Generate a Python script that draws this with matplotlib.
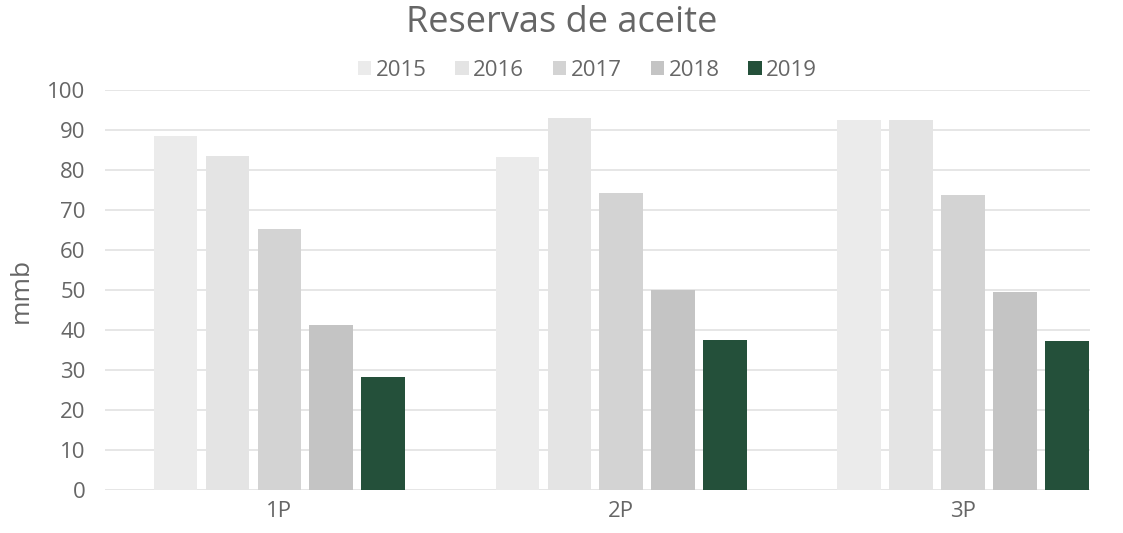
import matplotlib
matplotlib.use("Agg")
import matplotlib.pyplot as plt
import numpy as np

categories = ["1P", "2P", "3P"]
years = ["2015", "2016", "2017", "2018", "2019"]
values_2015 = [88.5, 83.3, 92.5]
values_2016 = [83.5, 93.0, 92.5]
values_2017 = [65.3, 74.3, 73.8]
values_2018 = [41.3, 50.0, 49.5]
values_2019 = [28.3, 37.5, 37.3]

series = [values_2015, values_2016, values_2017, values_2018, values_2019]
colors = ["#ebebeb", "#e4e4e4", "#d3d3d3", "#c4c4c4", "#24503a"]

plt.rcParams["font.family"] = ["Open Sans", "DejaVu Sans"]
text_color = "#666666"

fig = plt.figure(figsize=(11.23, 5.33), dpi=100)
ax = fig.add_axes([0.0935, 0.0807, 0.877, 0.7505])

x = np.arange(len(categories))
step = 0.152
width = 0.126
for i, (vals, col, yr) in enumerate(zip(series, colors, years)):
    ax.bar(x + (i - 2) * step, vals, width, color=col, label=yr, zorder=3)

ax.set_xlim(-0.509, 2.371)
ax.set_ylim(0, 100)
ax.set_yticks(range(0, 101, 10))
ax.set_xticks(x)
ax.set_xticklabels(categories)
ax.grid(axis="y", color="#e2e2e2", linewidth=1.2, zorder=0)
for s in ax.spines.values():
    s.set_visible(False)
ax.tick_params(axis="both", length=0, labelsize=16, colors=text_color, pad=14)
ax.tick_params(axis="x", pad=8)
ax.set_ylabel("mmb", fontsize=19, color=text_color, labelpad=10)

fig.suptitle("Reservas de aceite", fontsize=26, color="#666666", y=0.99)
ax.legend(loc="lower center", bbox_to_anchor=(0.49, 1.0), ncol=5, frameon=False,
          fontsize=16, labelcolor=text_color, handlelength=0.6, handleheight=0.6,
          handletextpad=0.2, columnspacing=1.3, borderaxespad=0.0)

fig.savefig("out.png", dpi=100, facecolor="white")
